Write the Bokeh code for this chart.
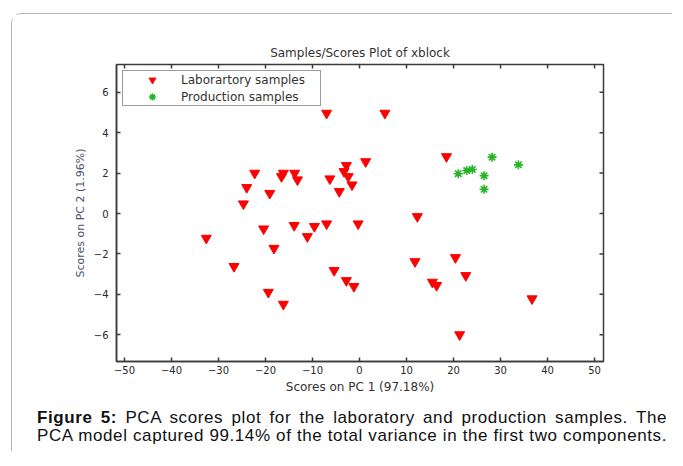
from bokeh.plotting import figure
from bokeh.models import Range1d, FixedTicker, Legend, LegendItem, Div
from bokeh.layouts import column
from bokeh.embed import file_html
from bokeh.resources import INLINE

# ---------------- data ----------------
lab_x = [-7.0, 5.4, 1.3, -2.8, -3.3, -2.4, -1.6, -4.3, -6.3, -22.3,
         -16.2, -13.8, -16.6, -13.2, -24.0, -19.1, -24.7, -20.4, -13.9, -9.6,
         -7.0, -0.3, -11.1, -32.6, -18.2, -26.7, -19.4, -16.2, -5.4, -2.8,
         -1.2, 18.5, 12.3, 11.8, 20.4, 22.6, 15.5, 16.4, 36.7, 21.3]
lab_y = [4.97, 4.97, 2.57, 2.38, 2.08, 1.83, 1.42, 1.09, 1.72, 2.0,
         2.0, 2.0, 1.83, 1.67, 1.29, 1.0, 0.48, -0.76, -0.59, -0.64,
         -0.51, -0.51, -1.14, -1.22, -1.72, -2.62, -3.9, -4.49, -2.82, -3.32,
         -3.61, 2.82, -0.15, -2.38, -2.18, -3.07, -3.4, -3.56, -4.22, -6.0]
prod_x = [28.2, 33.8, 21.0, 22.8, 24.0, 26.5, 26.5]
prod_y = [2.79, 2.41, 1.97, 2.13, 2.18, 1.87, 1.2]

x_ticks = [-50, -40, -30, -20, -10, 0, 10, 20, 30, 40, 50]
y_ticks = [-6, -4, -2, 0, 2, 4, 6]

title_text = "Samples/Scores Plot of xblock"
x_label = "Scores on PC 1 (97.18%)"
y_label = "Scores on PC 2 (1.96%)"
legend_labels = ["Laborartory samples", "Production samples"]
caption_bold = "Figure 5:"
caption_line1 = " PCA scores plot for the laboratory and production samples. The"
caption_line2 = "PCA model captured 99.14% of the total variance in the first two components."

# ---------------- layout / styles ----------------
AX = "#3a3a3a"
TXT = "#333333"
FONT = "DejaVu Sans"
W, H = 660, 387
MB_L, MB_R, MB_T, MB_B = 104, 69, 50, 40
X0, X1 = -51.7, 51.9
Y0, Y1 = -7.33, 7.38
TICK = 4

p = figure(width=W, height=H,
           x_range=Range1d(X0, X1), y_range=Range1d(Y0, Y1),
           output_backend="svg", toolbar_location=None,
           min_border_left=MB_L, min_border_right=MB_R,
           min_border_top=MB_T, min_border_bottom=MB_B)
p.title.text = title_text
p.title.align = "center"
p.title.text_font = FONT
p.title.text_font_size = "12px"
p.title.text_font_style = "normal"
p.title.text_color = TXT
p.title.standoff = 10

p.grid.visible = False
p.outline_line_color = AX
p.outline_line_width = 1.5
p.background_fill_color = "white"
p.border_fill_color = "white"

xax = p.below[0]
yax = p.left[0]
xax.ticker = FixedTicker(ticks=x_ticks)
yax.ticker = FixedTicker(ticks=y_ticks)
for ax in [xax, yax]:
    ax.axis_line_color = AX
    ax.axis_line_width = 1.5
    ax.major_tick_line_color = AX
    ax.major_tick_line_width = 1.5
    ax.major_tick_in = TICK
    ax.major_tick_out = 0
    ax.minor_tick_line_color = None
    ax.major_label_text_font = FONT
    ax.major_label_text_font_size = "10px"
    ax.major_label_text_color = "#2a2a2a"
    ax.axis_label_text_font = FONT
    ax.axis_label_text_font_style = "normal"
    ax.axis_label_text_color = TXT

xax.axis_label = x_label
xax.axis_label_text_font_size = "12px"
xax.major_label_standoff = 4
xax.axis_label_standoff = 3

yax.axis_label = y_label
yax.axis_label_text_font_size = "11px"
yax.axis_label_text_color = "#45506a"
yax.major_label_standoff = 8
yax.axis_label_standoff = 4

# inward ticks on the top and right edges of the box
frame_w = W - MB_L - MB_R
frame_h = H - MB_T - MB_B
dy = TICK * (Y1 - Y0) / frame_h
dx = TICK * (X1 - X0) / frame_w
p.segment(x0=x_ticks, x1=x_ticks, y0=[Y1] * len(x_ticks), y1=[Y1 - dy] * len(x_ticks),
          line_color=AX, line_width=1.5)
p.segment(x0=[X1] * len(y_ticks), x1=[X1 - dx] * len(y_ticks), y0=y_ticks, y1=y_ticks,
          line_color=AX, line_width=1.5)

r1 = p.scatter(lab_x, lab_y, marker="inverted_triangle", size=10,
               fill_color="#ff0000", line_color="#ff0000")
r2 = p.scatter(prod_x, prod_y, marker="asterisk", size=9,
               line_color="#22b422", line_width=1.6)

legend = Legend(items=[LegendItem(label=legend_labels[0], renderers=[r1]),
                       LegendItem(label=legend_labels[1], renderers=[r2])],
                location="top_left", margin=6, padding=0, spacing=0,
                glyph_width=58, glyph_height=17, label_height=17,
                label_standoff=0, label_width=139,
                label_text_font=FONT, label_text_font_size="12px",
                label_text_color=TXT,
                border_line_color=AX, border_line_width=1.5,
                background_fill_color="white", background_fill_alpha=1.0)
p.add_layout(legend)

caption_html = (
    '<div style="margin:8px 0 0 25px;width:630px;'
    "font-family:'Liberation Sans',Arial,sans-serif;font-size:17px;"
    'letter-spacing:0.6px;line-height:18px;color:#111;">'
    '<div style="text-align:justify;text-align-last:justify;white-space:nowrap;">'
    f'<b>{caption_bold}</b>{caption_line1}</div>'
    '<div style="text-align:justify;text-align-last:justify;white-space:nowrap;">'
    f'{caption_line2}</div></div>'
)
caption = Div(text=caption_html, width=660, height=50, margin=0)

layout = column(p, caption, margin=(13, 0, 0, 11),
                styles={"border-top": "1px solid #b5b5b5",
                        "border-left": "1px solid #b5b5b5",
                        "border-top-left-radius": "10px"})

open("out.html", "w").write(file_html(layout, INLINE))
